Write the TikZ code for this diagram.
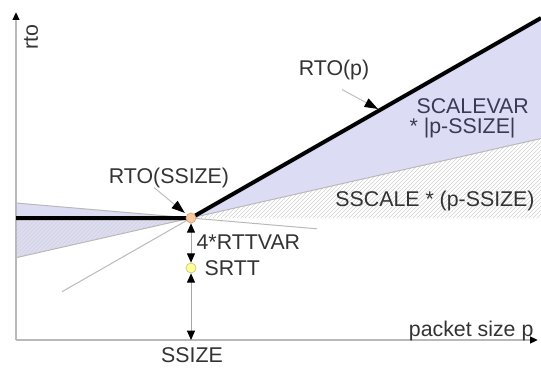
\documentclass[tikz,border=0pt]{standalone}
\usepackage{fontspec}
\setmainfont{Liberation Sans}
\usetikzlibrary{arrows.meta}
\usetikzlibrary{patterns}
\usetikzlibrary{positioning}

\definecolor{bandblue}{HTML}{DCDDF5}
\definecolor{txtgray}{HTML}{333333}
\definecolor{navytxt}{HTML}{3A3A55}
\definecolor{peach}{HTML}{F7C7A0}
\definecolor{peachdark}{HTML}{E0A070}
\definecolor{paleyellow}{HTML}{FFFF99}
\definecolor{olivedot}{HTML}{C8C878}

\tikzset{
  axisline/.style={draw=gray!55, line width=1.5pt, -{Triangle[length=6pt,width=5pt,color=black]}},
  thinline/.style={draw=gray!55, line width=0.75pt},
  rtoline/.style={draw=black, line width=3pt},
  hatch/.style={pattern=north east lines, pattern color=gray!35},
  measure/.style={draw=gray!70, line width=0.75pt,
    {Triangle[length=7pt,width=6pt,color=black]}-{Triangle[length=7pt,width=6pt,color=black]}},
  callout/.style={draw=gray!50, line width=0.75pt, -{Triangle[length=10pt,width=7pt,color=black]}},
  ssizedot/.style={circle, fill=peach, draw=peachdark, line width=0.5pt, minimum size=7.5pt, inner sep=0pt},
  srttdot/.style={circle, fill=paleyellow, draw=olivedot, line width=0.5pt, minimum size=7.5pt, inner sep=0pt},
  lbl/.style={inner sep=1pt}
}

\begin{document}
\begin{tikzpicture}[x=0.75pt, y=-0.75pt, font=\fontsize{16}{19}\selectfont, text=txtgray]
  \useasboundingbox (0,0) rectangle (541,367);

  % corner points of the bands
  \coordinate (o) at (16,340);
  \coordinate (ytop) at (16,12);
  \coordinate (xend) at (538,340);
  \coordinate (pc) at (191,218);
  \coordinate (rtoend) at (541,18);
  \coordinate (scaleR) at (541,138.5);
  \coordinate (scaleL) at (16,257.7);
  \coordinate (upL) at (16,203);
  \coordinate (upR) at (317,228.8);
  \coordinate (rtoL) at (62,291.7);
  \coordinate (flatL) at (16,218);
  \coordinate (flatR) at (541,218);

  \fill [bandblue] (rtoend) -- (pc) -- (scaleR) -- cycle;
  \fill [bandblue] (upL) -- (pc) -- (scaleL) -- cycle;
  \path [hatch] (scaleR) -- (pc) -- (flatR) -- cycle;
  \path [hatch] (flatL) -- (pc) -- (scaleL) -- cycle;

  \draw [thinline] (scaleL) -- (scaleR);
  \draw [thinline] (upL) -- (upR);
  \draw [thinline] (pc) -- (rtoL);

  \draw [axisline] (o) -- (ytop);
  \draw [axisline] (o) -- (xend);

  \draw [rtoline] (flatL) -- (pc) -- (rtoend);

  \node [ssizedot] (pt) at (pc) {};
  \node [srttdot] (srtt) at (191,268) {};
  \coordinate (xssize) at (191,340);
  \draw [measure] (pt) -- (srtt);
  \draw [measure] (srtt) -- (xssize);

  \node [lbl, rotate=90] (ylbl) at (31,37) {rto};
  \node [lbl, anchor=east] (xlbl) at (535,331) {packet size p};
  \node [lbl] (ssizelbl) at (192,355) {SSIZE};
  \node [lbl, anchor=west] (rttvarlbl) at (195,242) {4*RTTVAR};
  \node [lbl, anchor=west] (srttlbl) at (203,268) {SRTT};
  \node [lbl] (rtossizelbl) at (169,178) {RTO(SSIZE)};
  \node [lbl] (rtoplbl) at (334,70) {RTO(p)};
  \node [lbl, anchor=west, text=navytxt] (varlbl) at (415,106) {SCALEVAR};
  \node [lbl, anchor=west, text=navytxt] (varlbltwo) at (408,128) {* |p-SSIZE|};
  \node [lbl] (sscalelbl) at (435,201) {SSCALE * (p-SSIZE)};

  \coordinate (rtoptip) at (378,109);
  \draw [callout] ([shift={(8,8)}]rtoplbl.south) -- (rtoptip);
  \draw [callout, shorten >=2pt] ([shift={(-15,-2)}]rtossizelbl.south) -- (pt);
\end{tikzpicture}
\end{document}
